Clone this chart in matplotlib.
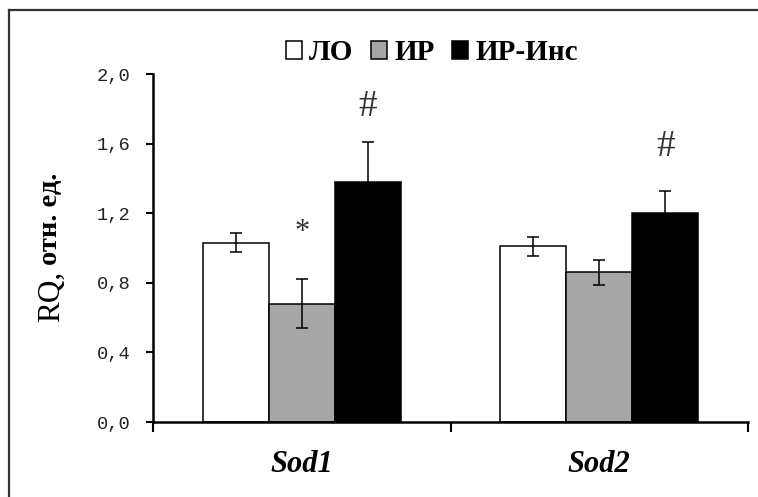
import numpy
from matplotlib import pyplot
from matplotlib.patches import Patch
from matplotlib.lines import Line2D

genes = ["Sod1", "Sod2"]
groups = ["ЛО", "ИР", "ИР-Инс"]
lo = [1.03, 1.01]
lo_err = [0.055, 0.055]
ir = [0.68, 0.86]
ir_err = [0.14, 0.07]
ir_ins = [1.38, 1.20]
ir_ins_err = [0.23, 0.125]
marks = [("*", 1, 0, 1.09), ("#", 2, 0, 1.81), ("#", 2, 1, 1.58)]
yticks = [0.0, 0.4, 0.8, 1.2, 1.6, 2.0]

colors = ["white", "#a6a6a6", "black"]
serif = "Liberation Serif"

fig = pyplot.figure(figsize=(7.58, 4.97), dpi=100)
ax = fig.add_axes([153 / 758, 1 - 422 / 497, 595 / 758, 348 / 497])

x = numpy.arange(len(genes))
width = 0.222
means = [lo, ir, ir_ins]
errs = [lo_err, ir_err, ir_ins_err]
for i in range(3):
    pos = x + (i - 1) * width
    ax.bar(pos, means[i], width, color=colors[i], edgecolor="black",
           linewidth=1.1, zorder=2)
    ax.errorbar(pos, means[i], yerr=errs[i], fmt="none", ecolor="black",
                elinewidth=1.1, capsize=4.5, capthick=1.1, zorder=3)

for sym, grp, gene, yv in marks:
    ax.text(x[gene] + (grp - 1) * width, yv, sym, ha="center", va="center",
            fontsize=27 if sym == "#" else 22, family=serif, color="#333333")

ax.set_xlim(-0.5, 1.5)
ax.set_ylim(0, 2.0)
ax.set_yticks(yticks)
ax.set_yticklabels([f"{v:.1f}".replace(".", ",") for v in yticks],
                   family="Liberation Mono", fontsize=13.5, color="#222222")
ax.set_xticks([-0.5, 0.5, 1.5])
ax.set_xticklabels([])
ax.tick_params(axis="y", direction="out", length=5, width=1.5, pad=11)
ax.tick_params(axis="x", direction="out", length=7, width=1.5)
for s in ["top", "right"]:
    ax.spines[s].set_visible(False)
for s in ["left", "bottom"]:
    ax.spines[s].set_linewidth(1.8)

for i, g in enumerate(genes):
    ax.text(x[i], -0.245, g, ha="center", va="center", family=serif,
            fontsize=22, fontweight="bold", style="italic", clip_on=False)

# y label: "RQ," regular, rest bold
fig.canvas.draw()
t1 = fig.text(51 / 758, 1 - 322 / 497, "RQ,", rotation=90, ha="center",
              va="bottom", family=serif, fontsize=22.5)
r = fig.canvas.get_renderer()
bb = t1.get_window_extent(r)
fig.text(51 / 758, (bb.y1 + 6) / 497, "отн. ед.", rotation=90, ha="center",
         va="bottom", family=serif, fontsize=20.5, fontweight="bold")

handles = [Patch(facecolor=c, edgecolor="black", linewidth=1.1) for c in colors]
fig.legend(handles, groups, loc="center", bbox_to_anchor=(432 / 758, 1 - 53 / 497),
           ncol=3, frameon=False, handlelength=0.55, handleheight=0.55,
           handletextpad=0.25, columnspacing=0.6,
           prop={"family": serif, "size": 21, "weight": "bold"})

# outer frame
fig.add_artist(Line2D([9 / 758, 1], [1 - 10 / 497] * 2, color="#333333", lw=1.6))
fig.add_artist(Line2D([9 / 758] * 2, [0, 1 - 10 / 497], color="#333333", lw=1.6))

fig.savefig("out.png", dpi=100)
